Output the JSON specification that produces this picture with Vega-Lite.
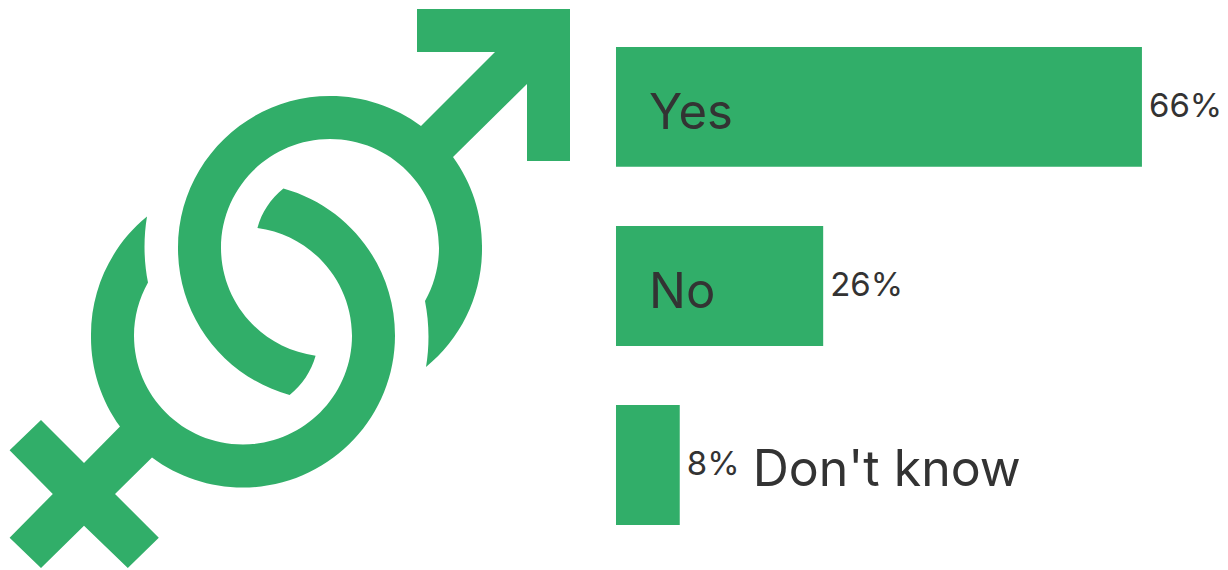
{
  "$schema": "https://vega.github.io/schema/vega-lite/v6.json",
  "autosize": {"type": "fit", "contains": "padding"},
  "padding": 0,
  "width": 1228,
  "height": 570,
  "background": "white",
  "view": {"stroke": null},
  "data": {"values": [
    {"answer": "Yes", "share": 66, "label": "66%", "inside": true},
    {"answer": "No", "share": 26, "label": "26%", "inside": true},
    {"answer": "Don't know", "share": 8, "label": "8%", "inside": false}
  ]},
  "encoding": {
    "y": {
      "field": "answer",
      "type": "nominal",
      "sort": null,
      "axis": null,
      "scale": {"paddingInner": 0.33, "paddingOuter": 0.257, "align": 0.51}
    }
  },
  "layer": [
    {
      "data": {"values": [{"symbol": "linked gender signs"}]},
      "mark": {
        "type": "point",
        "filled": true,
        "opacity": 1,
        "size": 4,
        "color": "#31AE69",
        "shape": "M-193,-159 L-119,-233 L-197,-233 L-197,-276 L-44,-276 L-44,-124 L-87,-124 L-87,-201 L-161,-128 A152,152,0,0,1,-132,-37 A152,152,0,0,1,-188,82 A185,185,0,0,0,-189,16 A109,109,0,0,0,-175,-37 A109,109,0,0,0,-284,-146 A109,109,0,0,0,-393,-37 A109,109,0,0,0,-298.4,70.7 A76,76,0,0,1,-324.4,110 A152,152,0,0,1,-436,-37 A152,152,0,0,1,-284,-189 A152,152,0,0,1,-193,-159 Z M-494,141.6 A152,152,0,0,1,-523,50.6 A152,152,0,0,1,-467,-68.4 A185,185,0,0,0,-466,-2.4 A109,109,0,0,0,-480,50.6 A109,109,0,0,0,-371,159.6 A109,109,0,0,0,-262,50.6 A109,109,0,0,0,-356.6,-57 A76,76,0,0,1,-330.6,-96.4 A152,152,0,0,1,-219,50.6 A152,152,0,0,1,-371,202.6 A152,152,0,0,1,-462,172.6 L-499,209 L-455.2,252.7 L-486.2,283 L-530,240.7 L-573,283 L-604.4,252.7 L-561.2,209 L-604.4,165.3 L-573,135 L-530,178 Z"
      },
      "encoding": {"y": null}
    },
    {
      "mark": {"type": "bar", "color": "#31AE69"},
      "encoding": {
        "x": {
          "field": "share",
          "type": "quantitative",
          "axis": null,
          "scale": {"domain": [-77.3, 76.8], "nice": false, "zero": false}
        }
      }
    },
    {
      "mark": {"type": "text", "align": "left", "baseline": "alphabetic", "dx": 7, "dy": 10, "font": "Inter", "fontSize": 33, "color": "#333333"},
      "encoding": {
        "x": {"field": "share", "type": "quantitative"},
        "text": {"field": "label"}
      }
    },
    {
      "transform": [{"filter": "datum.inside"}],
      "mark": {"type": "text", "align": "left", "baseline": "alphabetic", "dx": 33, "dy": 22, "font": "Inter", "fontSize": 49, "color": "#333333"},
      "encoding": {
        "x": {"datum": 0},
        "text": {"field": "answer"}
      }
    },
    {
      "transform": [{"filter": "!datum.inside"}],
      "mark": {"type": "text", "align": "left", "baseline": "alphabetic", "dx": 73, "dy": 21, "font": "Inter", "fontSize": 50, "color": "#333333"},
      "encoding": {
        "x": {"field": "share", "type": "quantitative"},
        "text": {"field": "answer"}
      }
    }
  ]
}
